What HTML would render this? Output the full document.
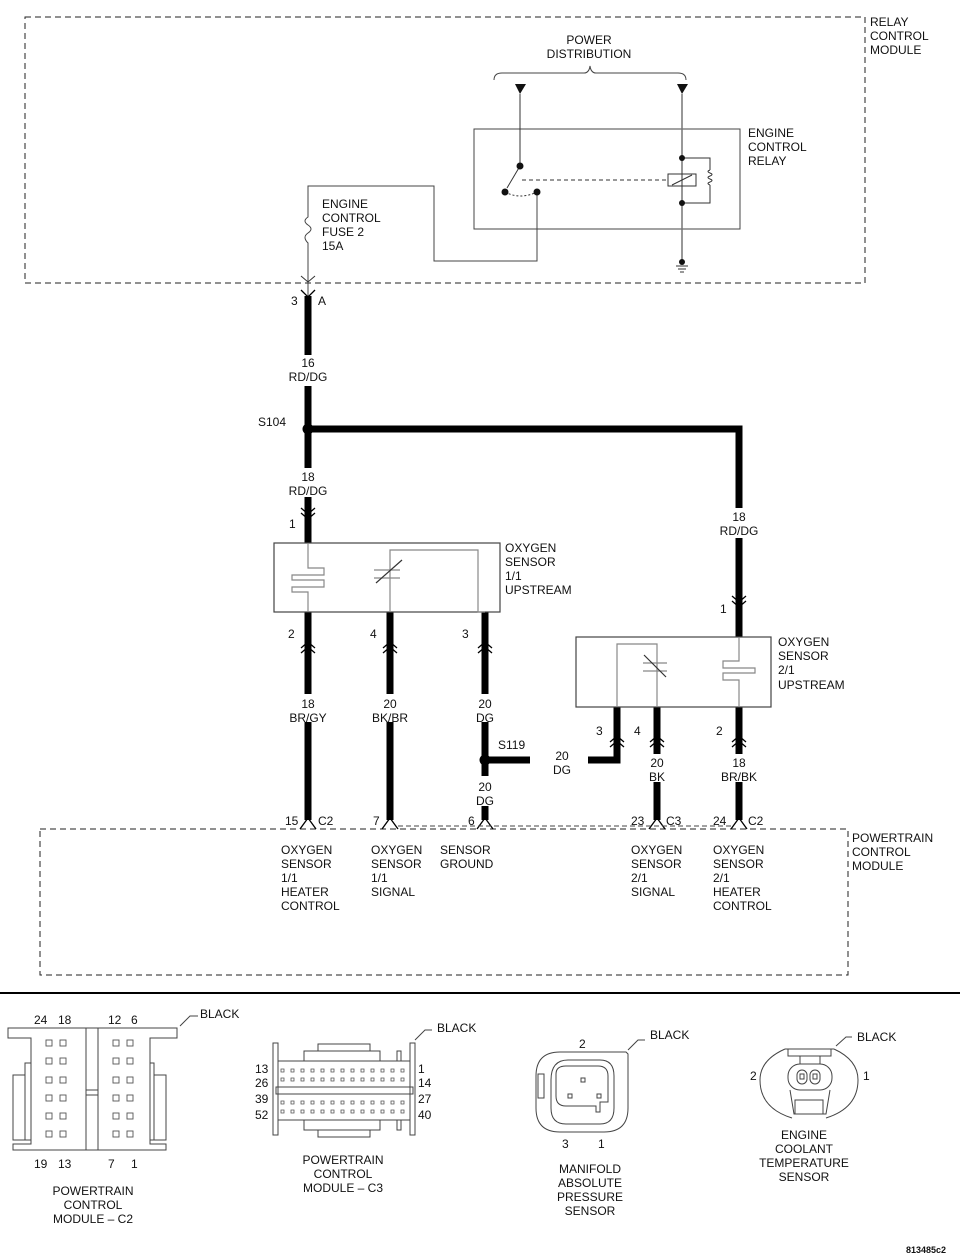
<!DOCTYPE html>
<html><head><meta charset="utf-8"><style>
html,body{margin:0;padding:0;background:#fff}
svg{display:block}
text{font-family:"Liberation Sans",sans-serif;font-size:12px;fill:#111}
.m{text-anchor:middle}
</style></head><body>
<svg width="960" height="1258" viewBox="0 0 960 1258" xmlns="http://www.w3.org/2000/svg">
<g fill="none" stroke="#222" stroke-width="1">
<rect x="25" y="17" width="840" height="266" stroke-dasharray="6,4"/>
<rect x="40" y="829" width="808" height="146" stroke-dasharray="6,4"/>
</g>
<text x="870" y="26">RELAY</text><text x="870" y="40">CONTROL</text><text x="870" y="54">MODULE</text>
<text x="852" y="842">POWERTRAIN</text><text x="852" y="856">CONTROL</text><text x="852" y="870">MODULE</text>

<text class="m" x="589" y="44">POWER</text><text class="m" x="589" y="58">DISTRIBUTION</text>
<path d="M494 80 Q494 73 502 73 L584 73 Q589 73 590 66 Q591 73 596 73 L678 73 Q686 73 686 80" fill="none" stroke="#444" stroke-width="1"/>
<polygon points="515,84 526,84 520,94" fill="#111"/>
<polygon points="677,84 688,84 682,94" fill="#111"/>
<rect x="474" y="129" width="266" height="100" fill="none" stroke="#444" stroke-width="1"/>
<text x="748" y="137">ENGINE</text><text x="748" y="151">CONTROL</text><text x="748" y="165">RELAY</text>
<g fill="none" stroke="#333" stroke-width="1">
<line x1="520" y1="94" x2="520" y2="166"/>
<line x1="520" y1="166" x2="507" y2="188"/>
<path d="M505 192 Q520 200 537 192" stroke-dasharray="2,2"/>
<line x1="522" y1="180" x2="668" y2="180" stroke-dasharray="4,3"/>
<line x1="682" y1="94" x2="682" y2="262" stroke="#777" stroke-width="1.5"/>
<rect x="668" y="174" width="28" height="12"/>
<line x1="672" y1="185" x2="692" y2="175"/>
<path d="M682 158 L710 158 L710 170 M710 170 q-4 1.5 0 3 q4 1.5 0 3 q-4 1.5 0 3 q4 1.5 0 3 q-4 1.5 0 3 M710 185 L710 203 L682 203"/>
<path d="M537 192 L537 261 L434 261 L434 186 L308 186 L308 217 q-6 4 0 8 q6 4 0 8 q-6 4 0 10 L308 300" stroke="#444"/>
<path d="M676 266 L688 266 M678 269 L686 269 M680 272 L684 272"/>
<path d="M301 276 L308 282 L315 276" stroke="#333"/>
</g>
<g fill="#111">
<circle cx="520" cy="166" r="3.5"/><circle cx="505" cy="192" r="3.5"/><circle cx="537" cy="192" r="3.5"/>
<circle cx="682" cy="158" r="3"/><circle cx="682" cy="203" r="3"/><circle cx="682" cy="262" r="3"/>
</g>
<text x="322" y="208">ENGINE</text><text x="322" y="222">CONTROL</text><text x="322" y="236">FUSE 2</text><text x="322" y="250">15A</text>

<g stroke="#000" stroke-width="7" fill="none">
<line x1="308" y1="296" x2="308" y2="355"/>
<line x1="308" y1="386" x2="308" y2="468"/>
<path d="M308 429 L739 429 L739 508"/>
<line x1="308" y1="497" x2="308" y2="543"/>
<line x1="739" y1="538" x2="739" y2="637"/>
<line x1="308" y1="612" x2="308" y2="694"/>
<line x1="308" y1="722" x2="308" y2="820"/>
<line x1="390" y1="612" x2="390" y2="694"/>
<line x1="390" y1="722" x2="390" y2="820"/>
<line x1="485" y1="612" x2="485" y2="694"/>
<line x1="485" y1="722" x2="485" y2="776"/>
<line x1="485" y1="806" x2="485" y2="820"/>
<line x1="485" y1="760" x2="530" y2="760"/>
<path d="M588 760 L617 760 L617 707"/>
<line x1="657" y1="707" x2="657" y2="754"/>
<line x1="657" y1="782" x2="657" y2="820"/>
<line x1="739" y1="707" x2="739" y2="754"/>
<line x1="739" y1="782" x2="739" y2="820"/>
</g>
<circle cx="308" cy="429" r="5.5" fill="#000"/>
<circle cx="485" cy="760" r="5.5" fill="#000"/>
<g stroke="#000" stroke-width="1.3" fill="none">
<path d="M301 290 L308 297 L315 290"/>
<path d="M301 508 L308 514 L315 508 M301 513 L308 519 L315 513"/>
<path d="M732 596 L739 602 L746 596 M732 601 L739 607 L746 601"/>
<path d="M301 648 L308 642 L315 648 M301 653 L308 647 L315 653"/>
<path d="M383 648 L390 642 L397 648 M383 653 L390 647 L397 653"/>
<path d="M478 648 L485 642 L492 648 M478 653 L485 647 L492 653"/>
<path d="M610 742 L617 736 L624 742 M610 747 L617 741 L624 747"/>
<path d="M650 742 L657 736 L664 742 M650 747 L657 741 L664 747"/>
<path d="M732 742 L739 736 L746 742 M732 747 L739 741 L746 747"/>
<path d="M300 829 L308 818 L316 829"/>
<path d="M382 829 L390 818 L398 829"/>
<path d="M477 829 L485 818 L493 829"/>
<path d="M649 829 L657 818 L665 829"/>
<path d="M731 829 L739 818 L747 829"/>
</g>
<text x="291" y="305">3</text><text x="318" y="305">A</text>
<text class="m" x="308" y="367">16</text><text class="m" x="308" y="381">RD/DG</text>
<text x="258" y="426">S104</text>
<text class="m" x="308" y="481">18</text><text class="m" x="308" y="495">RD/DG</text>
<text x="289" y="528">1</text>
<text class="m" x="739" y="521">18</text><text class="m" x="739" y="535">RD/DG</text>
<text x="720" y="613">1</text>

<rect x="274" y="543" width="226" height="69" fill="none" stroke="#444" stroke-width="1.2"/>
<g fill="none" stroke="#888" stroke-width="1.2">
<path d="M308 543 L308 568 L324 568 L324 575 L292 575 L292 580 L324 580 L324 587 L292 587 L292 592 L308 592 L308 612"/>
<path d="M390 612 L390 550 L478 550 L478 612 L485 612" />
<line x1="374" y1="570" x2="400" y2="570"/><line x1="374" y1="578" x2="400" y2="578"/>
<line x1="376" y1="583" x2="402" y2="560" stroke="#333"/>
</g>
<text x="505" y="552">OXYGEN</text><text x="505" y="566">SENSOR</text><text x="505" y="580">1/1</text><text x="505" y="594">UPSTREAM</text>
<rect x="576" y="637" width="195" height="70" fill="none" stroke="#444" stroke-width="1.2"/>
<g fill="none" stroke="#888" stroke-width="1.2">
<path d="M617 707 L617 644 L657 644 L657 707"/>
<line x1="643" y1="663" x2="667" y2="663"/><line x1="643" y1="671" x2="667" y2="671"/>
<line x1="644" y1="655" x2="666" y2="677" stroke="#333"/>
<path d="M739 637 L739 661 L723 661 L723 668 L755 668 L755 673 L723 673 L723 680 L739 680 L739 707"/>
</g>
<text x="778" y="646">OXYGEN</text><text x="778" y="660">SENSOR</text><text x="778" y="674">2/1</text><text x="778" y="689">UPSTREAM</text>

<text x="288" y="638">2</text><text x="370" y="638">4</text><text x="462" y="638">3</text>
<text class="m" x="308" y="708">18</text><text class="m" x="308" y="722">BR/GY</text>
<text class="m" x="390" y="708">20</text><text class="m" x="390" y="722">BK/BR</text>
<text class="m" x="485" y="708">20</text><text class="m" x="485" y="722">DG</text>
<text x="498" y="749">S119</text>
<text class="m" x="562" y="760">20</text><text class="m" x="562" y="774">DG</text>
<text class="m" x="485" y="791">20</text><text class="m" x="485" y="805">DG</text>
<text x="596" y="735">3</text><text x="634" y="735">4</text><text x="716" y="735">2</text>
<text class="m" x="657" y="767">20</text><text class="m" x="657" y="781">BK</text>
<text class="m" x="739" y="767">18</text><text class="m" x="739" y="781">BR/BK</text>
<text x="285" y="825">15</text><text x="318" y="825">C2</text>
<text x="373" y="825">7</text><text x="468" y="825">6</text>
<text x="631" y="825">23</text><text x="666" y="825">C3</text>
<text x="713" y="825">24</text><text x="748" y="825">C2</text>
<line x1="398" y1="826" x2="731" y2="826" stroke="#444" stroke-dasharray="5,3"/>

<text x="281" y="854">OXYGEN</text><text x="281" y="868">SENSOR</text><text x="281" y="882">1/1</text><text x="281" y="896">HEATER</text><text x="281" y="910">CONTROL</text>
<text x="371" y="854">OXYGEN</text><text x="371" y="868">SENSOR</text><text x="371" y="882">1/1</text><text x="371" y="896">SIGNAL</text>
<text x="440" y="854">SENSOR</text><text x="440" y="868">GROUND</text>
<text x="631" y="854">OXYGEN</text><text x="631" y="868">SENSOR</text><text x="631" y="882">2/1</text><text x="631" y="896">SIGNAL</text>
<text x="713" y="854">OXYGEN</text><text x="713" y="868">SENSOR</text><text x="713" y="882">2/1</text><text x="713" y="896">HEATER</text><text x="713" y="910">CONTROL</text>

<line x1="0" y1="993" x2="960" y2="993" stroke="#000" stroke-width="2"/>

<g fill="none" stroke="#444" stroke-width="1">
<path d="M8 1028 L177 1028 L177 1038 L150 1038 L150 1144 L166 1144 L166 1150 L13 1150 L13 1144 L31 1144 L31 1038 L8 1038 Z"/>
<line x1="86" y1="1028" x2="86" y2="1150"/><line x1="98" y1="1028" x2="98" y2="1150"/>
<line x1="86" y1="1090" x2="98" y2="1090"/><line x1="86" y1="1095" x2="98" y2="1095"/>
<rect x="13" y="1075" width="12" height="65"/><rect x="25" y="1063" width="6" height="77"/>
<rect x="154" y="1075" width="12" height="65"/><rect x="150" y="1063" width="4" height="77"/>
<path d="M180 1026 L190 1016 L198 1016"/>
</g>
<g fill="none" stroke="#555" stroke-width="0.9">
<rect x="46" y="1040" width="6" height="6"/><rect x="60" y="1040" width="6" height="6"/><rect x="113" y="1040" width="6" height="6"/><rect x="127" y="1040" width="6" height="6"/>
<rect x="46" y="1058" width="6" height="6"/><rect x="60" y="1058" width="6" height="6"/><rect x="113" y="1058" width="6" height="6"/><rect x="127" y="1058" width="6" height="6"/>
<rect x="46" y="1077" width="6" height="6"/><rect x="60" y="1077" width="6" height="6"/><rect x="113" y="1077" width="6" height="6"/><rect x="127" y="1077" width="6" height="6"/>
<rect x="46" y="1095" width="6" height="6"/><rect x="60" y="1095" width="6" height="6"/><rect x="113" y="1095" width="6" height="6"/><rect x="127" y="1095" width="6" height="6"/>
<rect x="46" y="1113" width="6" height="6"/><rect x="60" y="1113" width="6" height="6"/><rect x="113" y="1113" width="6" height="6"/><rect x="127" y="1113" width="6" height="6"/>
<rect x="46" y="1131" width="6" height="6"/><rect x="60" y="1131" width="6" height="6"/><rect x="113" y="1131" width="6" height="6"/><rect x="127" y="1131" width="6" height="6"/>
</g>
<text x="200" y="1018">BLACK</text>
<text x="34" y="1024">24</text><text x="58" y="1024">18</text><text x="108" y="1024">12</text><text x="131" y="1024">6</text>
<text x="34" y="1168">19</text><text x="58" y="1168">13</text><text x="108" y="1168">7</text><text x="131" y="1168">1</text>
<text class="m" x="93" y="1195">POWERTRAIN</text><text class="m" x="93" y="1209">CONTROL</text><text class="m" x="93" y="1223">MODULE – C2</text>

<g fill="none" stroke="#444" stroke-width="1">
<rect x="273" y="1043" width="5" height="92"/><rect x="410" y="1043" width="5" height="92"/>
<path d="M278 1061 L410 1061 M304 1061 L304 1051 L380 1051 L380 1061 M318 1051 L318 1044 L370 1044 L370 1051"/>
<path d="M278 1120 L410 1120 M304 1120 L304 1130 L380 1130 L380 1120 M318 1130 L318 1137 L370 1137 L370 1130"/>
<rect x="397" y="1051" width="4" height="10"/><rect x="397" y="1120" width="4" height="10"/>
<rect x="276" y="1087" width="137" height="7"/>
<path d="M415 1040 L425 1030 L432 1030"/>
</g>
<g fill="#fff" stroke="#555" stroke-width="0.8">
<path d="M281 1069h3v3h-3zM291 1069h3v3h-3zM301 1069h3v3h-3zM311 1069h3v3h-3zM321 1069h3v3h-3zM331 1069h3v3h-3zM341 1069h3v3h-3zM351 1069h3v3h-3zM361 1069h3v3h-3zM371 1069h3v3h-3zM381 1069h3v3h-3zM391 1069h3v3h-3zM401 1069h3v3h-3z"/>
<path d="M281 1078h3v3h-3zM291 1078h3v3h-3zM301 1078h3v3h-3zM311 1078h3v3h-3zM321 1078h3v3h-3zM331 1078h3v3h-3zM341 1078h3v3h-3zM351 1078h3v3h-3zM361 1078h3v3h-3zM371 1078h3v3h-3zM381 1078h3v3h-3zM391 1078h3v3h-3zM401 1078h3v3h-3z"/>
<path d="M281 1101h3v3h-3zM291 1101h3v3h-3zM301 1101h3v3h-3zM311 1101h3v3h-3zM321 1101h3v3h-3zM331 1101h3v3h-3zM341 1101h3v3h-3zM351 1101h3v3h-3zM361 1101h3v3h-3zM371 1101h3v3h-3zM381 1101h3v3h-3zM391 1101h3v3h-3zM401 1101h3v3h-3z"/>
<path d="M281 1110h3v3h-3zM291 1110h3v3h-3zM301 1110h3v3h-3zM311 1110h3v3h-3zM321 1110h3v3h-3zM331 1110h3v3h-3zM341 1110h3v3h-3zM351 1110h3v3h-3zM361 1110h3v3h-3zM371 1110h3v3h-3zM381 1110h3v3h-3zM391 1110h3v3h-3zM401 1110h3v3h-3z"/>
</g>
<text x="437" y="1032">BLACK</text>
<text x="255" y="1073">13</text><text x="255" y="1087">26</text><text x="255" y="1103">39</text><text x="255" y="1119">52</text>
<text x="418" y="1073">1</text><text x="418" y="1087">14</text><text x="418" y="1103">27</text><text x="418" y="1119">40</text>
<text class="m" x="343" y="1164">POWERTRAIN</text><text class="m" x="343" y="1178">CONTROL</text><text class="m" x="343" y="1192">MODULE – C3</text>

<g fill="none" stroke="#444" stroke-width="1">
<path d="M626 1052 L560 1052 Q536 1052 536 1076 L536 1108 Q536 1132 560 1132 L604 1132 Q628 1132 628 1108 L628 1054 Z"/>
<path d="M551 1080 Q551 1060 568 1060 L600 1060 Q614 1060 614 1076 L614 1108 Q614 1124 600 1124 L566 1124 Q551 1124 551 1108 Z"/>
<path d="M556 1074 Q556 1066 566 1066 L598 1066 Q608 1066 608 1076 L608 1102 L600 1102 L600 1112 L596 1112 L596 1106 L566 1106 Q556 1106 556 1096 Z"/>
<rect x="538" y="1074" width="6" height="24"/>
<rect x="581" y="1078" width="4" height="4"/><rect x="568" y="1094" width="4" height="4"/><rect x="597" y="1094" width="4" height="4"/>
<path d="M628 1050 L638 1040 L645 1040"/>
</g>
<text x="650" y="1039">BLACK</text>
<text x="579" y="1048">2</text><text x="562" y="1148">3</text><text x="598" y="1148">1</text>
<text class="m" x="590" y="1173">MANIFOLD</text><text class="m" x="590" y="1187">ABSOLUTE</text><text class="m" x="590" y="1201">PRESSURE</text><text class="m" x="590" y="1215">SENSOR</text>

<g fill="none" stroke="#444" stroke-width="1">
<path d="M785 1049 Q760 1060 760 1080 Q760 1108 792 1118 M834 1049 Q858 1060 858 1080 Q858 1108 826 1118"/>
<path d="M785 1049 L834 1049 M788 1049 L788 1056 L831 1056 L831 1049 M800 1056 L800 1064 L820 1064 L820 1056"/>
<rect x="788" y="1064" width="44" height="26" rx="12"/>
<rect x="797" y="1070" width="10" height="14" rx="5"/><rect x="810" y="1070" width="10" height="14" rx="5"/>
<rect x="800" y="1074" width="4" height="5"/><rect x="813" y="1074" width="4" height="5"/>
<path d="M790 1090 L794 1114 L826 1114 L830 1090"/>
<rect x="795" y="1100" width="28" height="14"/>
<path d="M836 1046 L846 1037 L852 1037"/>
</g>
<text x="857" y="1041">BLACK</text>
<text x="750" y="1080">2</text><text x="863" y="1080">1</text>
<text class="m" x="804" y="1139">ENGINE</text><text class="m" x="804" y="1153">COOLANT</text><text class="m" x="804" y="1167">TEMPERATURE</text><text class="m" x="804" y="1181">SENSOR</text>

<text x="906" y="1253" style="font-size:9px;font-weight:bold">813485c2</text>
</svg>
</body></html>
